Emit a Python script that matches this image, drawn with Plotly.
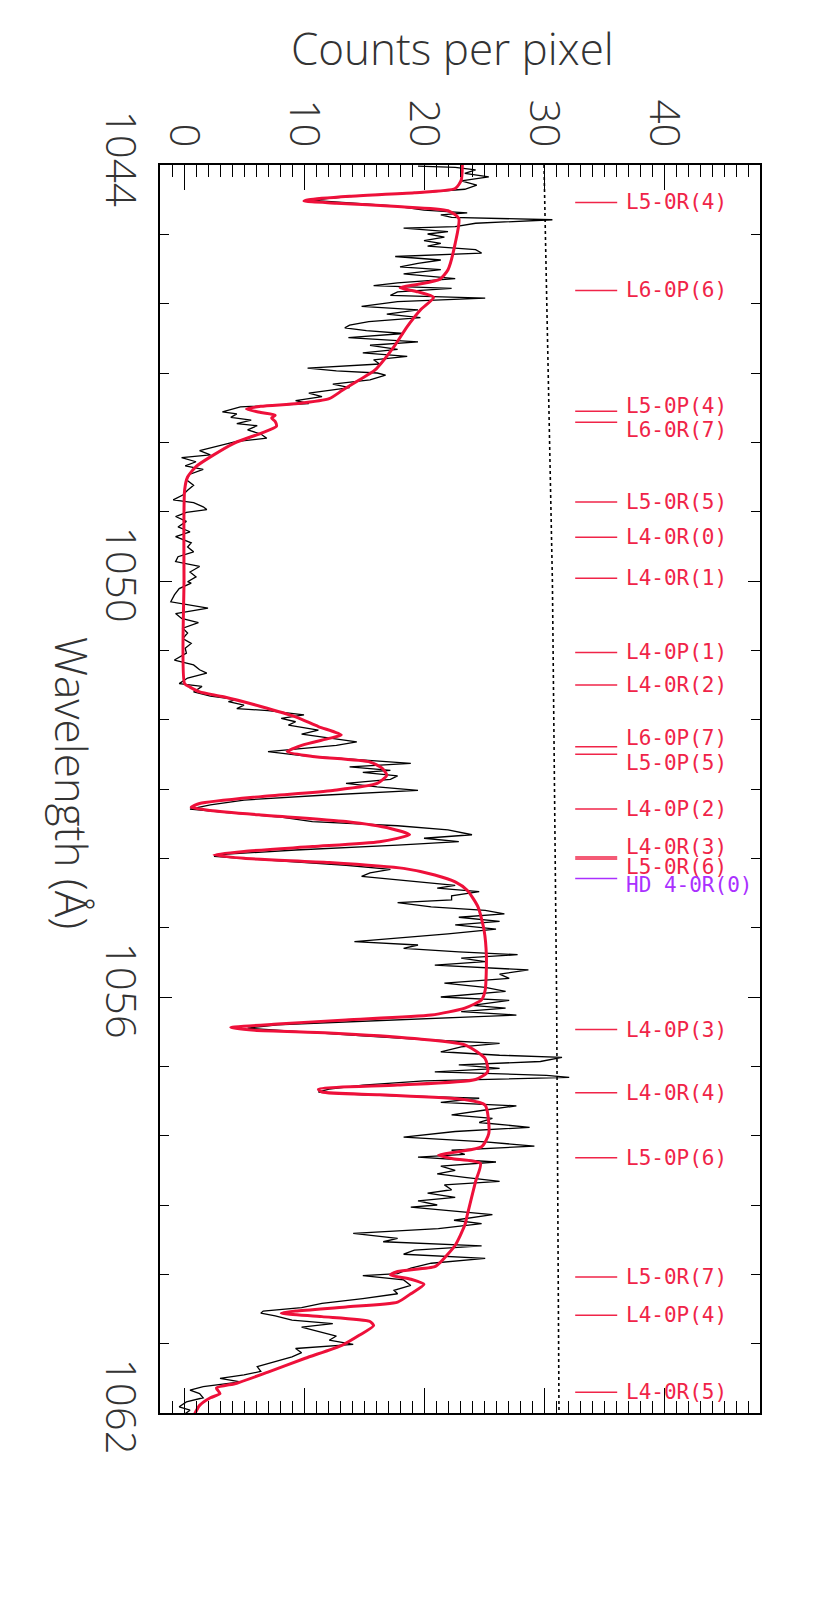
import plotly.graph_objects as go

# observed spectrum (black), wavelength in Angstrom / counts per pixel
obs_wave = [
    1044.015, 1044.034, 1044.07, 1044.12, 1044.17, 1044.23, 1044.29, 1044.35, 1044.40, 1044.43,
    1044.48, 1044.51, 1044.54, 1044.59, 1044.65, 1044.69, 1044.72, 1044.755, 1044.79, 1044.84,
    1044.89, 1044.91, 1044.96, 1044.995, 1045.04, 1045.09, 1045.13, 1045.17, 1045.22, 1045.27,
    1045.32, 1045.37, 1045.42, 1045.47, 1045.51, 1045.57, 1045.64, 1045.70, 1045.74, 1045.78,
    1045.83, 1045.88, 1045.92, 1045.97, 1046.04, 1046.09, 1046.15, 1046.20, 1046.26, 1046.31,
    1046.35, 1046.39, 1046.43, 1046.49, 1046.55, 1046.60, 1046.66, 1046.71, 1046.76, 1046.81,
    1046.87, 1046.93, 1046.97, 1047.00,
    1047.03, 1047.10, 1047.16, 1047.21, 1047.29, 1047.34, 1047.40, 1047.44, 1047.49, 1047.56,
    1047.59, 1047.64, 1047.68, 1047.73, 1047.76, 1047.82, 1047.88, 1047.94, 1047.99, 1048.05,
    1048.12, 1048.18, 1048.22, 1048.28, 1048.34, 1048.39, 1048.46, 1048.54, 1048.62, 1048.69,
    1048.76, 1048.83, 1048.87, 1048.93, 1048.97, 1049.01, 1049.07, 1049.14, 1049.22, 1049.29,
    1049.36, 1049.45, 1049.51, 1049.58, 1049.65, 1049.72, 1049.79, 1049.87, 1049.94, 1050.01,
    1050.03, 1050.11, 1050.20, 1050.30, 1050.39, 1050.47, 1050.54, 1050.60, 1050.68, 1050.75,
    1050.83, 1050.90, 1050.97, 1051.04, 1051.14, 1051.21, 1051.28, 1051.33, 1051.40, 1051.48,
    1051.52, 1051.60, 1051.66, 1051.71, 1051.74, 1051.79, 1051.84, 1051.87, 1051.91, 1051.93,
    1051.98, 1052.03, 1052.08, 1052.15, 1052.21, 1052.25, 1052.32, 1052.37, 1052.41, 1052.46,
    1052.52, 1052.57, 1052.63, 1052.68, 1052.73, 1052.76, 1052.81, 1052.86, 1052.92, 1052.97,
    1053.02, 1053.09, 1053.16, 1053.23, 1053.29, 1053.34, 1053.40, 1053.47, 1053.53, 1053.59,
    1053.63, 1053.66, 1053.71, 1053.76, 1053.81, 1053.88, 1053.94, 1053.97, 1054.02, 1054.10,
    1054.16, 1054.21, 1054.26, 1054.31, 1054.39, 1054.43, 1054.48, 1054.54, 1054.60, 1054.64,
    1054.70, 1054.75, 1054.80, 1054.85, 1054.91, 1054.96, 1055.02, 1055.09, 1055.15, 1055.20,
    1055.25, 1055.30, 1055.35, 1055.39, 1055.44, 1055.49, 1055.54, 1055.61, 1055.67, 1055.73,
    1055.80, 1055.86, 1055.92, 1056.00, 1056.05, 1056.12, 1056.16, 1056.21, 1056.26, 1056.31,
    1056.36, 1056.40, 1056.45, 1056.50, 1056.56, 1056.62, 1056.67, 1056.72, 1056.79, 1056.84,
    1056.87, 1056.93, 1056.98, 1057.03, 1057.08, 1057.13, 1057.16, 1057.21, 1057.27, 1057.33,
    1057.37, 1057.41, 1057.46, 1057.52, 1057.57, 1057.63, 1057.70, 1057.75, 1057.81, 1057.88,
    1057.94, 1058.02, 1058.09, 1058.15, 1058.21, 1058.27, 1058.31, 1058.38, 1058.44, 1058.50,
    1058.55, 1058.60, 1058.66, 1058.71, 1058.78, 1058.83, 1058.89, 1058.94, 1059.00, 1059.03,
    1059.07, 1059.14, 1059.22, 1059.27, 1059.34, 1059.41, 1059.48, 1059.53, 1059.59, 1059.65,
    1059.71, 1059.77, 1059.84, 1059.91, 1059.99, 1060.02, 1060.08, 1060.16, 1060.23, 1060.28,
    1060.35, 1060.42, 1060.48, 1060.53, 1060.56, 1060.60, 1060.66, 1060.71, 1060.76, 1060.82,
    1060.89, 1060.95, 1061.01, 1061.07, 1061.13, 1061.19, 1061.26, 1061.33, 1061.40, 1061.45,
    1061.50, 1061.55, 1061.62, 1061.67, 1061.72, 1061.78, 1061.84, 1061.91, 1061.96, 1062.01,
]
obs_counts = [
    19.5, 22.6, 24.3, 23.4, 25.4, 23.1, 24.4, 23.4, 19.5, 15.5,
    12.1, 10.7, 13.2, 17.5, 20.0, 23.6, 21.4, 22.3, 30.7, 24.3,
    22.6, 18.3, 22.0, 20.3, 21.7, 20.0, 21.4, 20.3, 24.3, 24.8,
    17.6, 21.4, 19.5, 18.0, 21.4, 18.3, 22.6, 17.8, 15.8, 22.3,
    17.8, 17.2, 25.1, 17.8, 14.8, 19.5, 16.9, 19.7, 15.4, 13.8,
    13.4, 15.2, 18.3, 13.7, 19.5, 15.5, 17.8, 14.9, 18.6, 15.8,
    16.3, 10.3, 12.7, 16.1,
    16.8, 15.5, 12.4, 13.8, 10.4, 11.5, 9.3, 10.4, 4.7, 3.2,
    4.4, 3.9, 5.6, 4.4, 6.1, 5.3, 6.4, 6.9, 4.3, 2.9,
    1.3, 2.2, -0.2, 1.0, 0.1, 1.6, 0.5, 0.2, 0.8, 0.3,
    -0.1, -0.9, 0.8, 1.6, 1.9, 0.2, -0.7, 0.2, -0.5, 0.5,
    -0.7, 0.6, 0.3, 0.8, -0.5, -0.7, 1.3, 0.5, 1.0, 0.3,
    0.6, -0.4, -0.8, -1.1, 2.0, -0.7, -0.2, 1.2, -0.1, 0.3,
    -0.1, 0.6, 0.1, 0.2, -0.8, 0.8, 1.3, 1.9, 0.3, -0.4,
    1.5, 0.8, 2.2, 4.4, 3.7, 5.0, 4.4, 7.0, 8.7, 10.0,
    8.1, 9.3, 8.7, 11.2, 9.8, 11.5, 14.4, 12.7, 10.4, 7.0,
    9.8, 13.8, 18.9, 13.8, 17.2, 14.9, 17.8, 17.2, 13.5, 16.1,
    19.5, 11.5, 5.0, 2.2, 0.5, 3.6, 7.8, 10.7, 17.8, 22.0,
    23.1, 24.0, 20.0, 22.9, 17.8, 9.3, 3.6, 2.5, 6.4, 13.5,
    17.2, 15.5, 14.8, 17.8, 22.6, 21.1, 24.6, 22.3, 22.3, 17.8,
    20.6, 25.1, 26.7, 22.9, 26.3, 22.6, 26.0, 22.0, 17.8, 14.2,
    19.5, 18.3, 22.9, 27.8, 23.1, 25.1, 20.9, 28.7, 26.3, 27.1,
    21.7, 25.1, 26.8, 21.4, 27.1, 24.0, 26.8, 23.1, 27.7, 20.6,
    14.1, 7.8, 5.3, 9.3, 14.9, 20.6, 26.3, 23.1, 21.4, 26.3,
    31.5, 29.7, 22.9, 26.3, 20.9, 30.2, 32.1, 20.0, 14.9, 12.1,
    11.2, 14.9, 24.6, 21.4, 27.7, 25.1, 22.3, 25.7, 24.6, 28.8,
    22.6, 18.3, 25.1, 29.2, 22.3, 23.4, 19.5, 26.0, 21.4, 22.6,
    21.1, 23.4, 26.3, 21.7, 22.3, 20.3, 22.6, 19.5, 21.1, 18.9,
    21.4, 25.7, 22.5, 24.8, 21.2, 14.1, 17.8, 16.6, 24.8, 19.2,
    18.3, 25.1, 20.6, 18.9, 17.8, 14.9, 18.3, 18.9, 17.5, 17.8,
    14.9, 11.5, 9.8, 6.6, 6.4, 7.6, 9.0, 12.4, 9.8, 11.2,
    12.7, 12.1, 14.1, 9.3, 9.8, 9.0, 7.6, 6.1, 6.4, 5.0,
    3.0, 4.7, 1.6, 0.5, 1.3, 1.6, 0.2, -0.4, 0.5, 0.1,
]

# model fit (red)
model_wave = [
    1043.93, 1044.22, 1044.34, 1044.40, 1044.45, 1044.50, 1044.52, 1044.55, 1044.60, 1044.66,
    1044.77, 1045.13, 1045.51, 1045.65, 1045.72, 1045.77, 1045.83, 1045.91, 1046.09, 1046.33,
    1046.62, 1046.96, 1047.10, 1047.25, 1047.37, 1047.44, 1047.48, 1047.52, 1047.57, 1047.61,
    1047.65, 1047.70, 1047.77, 1047.87, 1048.01, 1048.21, 1048.35, 1048.50, 1048.69, 1050.00,
    1051.48, 1051.53, 1051.60, 1051.67, 1051.81, 1051.96, 1052.10, 1052.22, 1052.27, 1052.37,
    1052.46, 1052.53, 1052.61, 1052.70, 1052.80, 1052.92, 1053.02, 1053.11, 1053.21, 1053.265,
    1053.31, 1053.375, 1053.47, 1053.57, 1053.66, 1053.76, 1053.83, 1053.90, 1053.95, 1054.00,
    1054.06, 1054.145, 1054.24, 1054.34, 1054.46, 1054.70, 1055.03, 1055.42, 1055.90, 1056.04,
    1056.16, 1056.26, 1056.33, 1056.39, 1056.44, 1056.48, 1056.52, 1056.60, 1056.69, 1056.89,
    1057.08, 1057.19, 1057.27, 1057.33, 1057.37, 1057.41, 1057.48, 1057.56, 1057.97, 1058.16,
    1058.23, 1058.28, 1058.33, 1058.40, 1058.66, 1059.15, 1059.29, 1059.58, 1059.82, 1059.89,
    1059.96, 1060.01, 1060.07, 1060.145, 1060.28, 1060.40, 1060.47, 1060.53, 1060.56, 1060.61,
    1060.68, 1060.74, 1060.88, 1061.02, 1061.21, 1061.41, 1061.57, 1061.64, 1061.72, 1061.78,
    1061.89, 1062.01,
]
model_counts = [
    23.2, 23.1, 22.6, 19.2, 13.8, 10.4, 10.0, 12.7, 17.8, 22.0,
    22.9, 22.6, 22.0, 21.3, 19.5, 18.0, 19.5, 20.8, 19.7, 18.6,
    17.5, 15.9, 14.6, 13.2, 12.1, 9.5, 6.4, 5.2, 6.4, 7.6,
    7.3, 7.6, 7.7, 6.4, 4.2, 2.2, 1.0, 0.3, 0.05, 0.0,
    0.05, 0.5, 1.3, 3.3, 6.4, 9.3, 11.2, 13.1, 12.1, 9.8,
    8.6, 10.7, 15.5, 16.5, 16.9, 16.1, 12.4, 6.4, 1.3, 0.6,
    2.2, 6.4, 13.5, 17.2, 18.8, 16.3, 10.7, 5.0, 2.5, 5.0,
    12.1, 18.3, 20.9, 22.6, 23.6, 24.5, 25.0, 25.2, 25.1, 24.8,
    23.4, 20.6, 13.5, 7.8, 3.9, 5.9, 12.1, 19.2, 23.4, 25.1,
    25.3, 24.3, 17.8, 11.2, 11.5, 16.3, 23.4, 25.1, 25.4, 24.8,
    22.9, 21.2, 22.3, 24.7, 24.3, 23.6, 23.4, 22.6, 21.4, 20.9,
    17.8, 17.2, 18.9, 20.0, 18.9, 17.8, 13.5, 9.3, 8.1, 11.5,
    15.5, 15.8, 14.6, 13.2, 10.1, 7.0, 4.4, 2.7, 3.0, 2.2,
    1.3, 0.9,
]

# dotted reference level
level_wave = [1044, 1050, 1056, 1062]
level_counts = [30.0, 30.7, 31.05, 31.25]

# identified absorption lines
line_names = [
    "L5-0R(4)", "L6-0P(6)", "L5-0P(4)", "L6-0R(7)", "L5-0R(5)", "L4-0R(0)", "L4-0R(1)",
    "L4-0P(1)", "L4-0R(2)", "L6-0P(7)", "L5-0P(5)", "L4-0P(2)", "L4-0R(3)", "L5-0R(6)",
    "HD 4-0R(0)", "L4-0P(3)", "L4-0R(4)", "L5-0P(6)", "L5-0R(7)", "L4-0P(4)", "L4-0R(5)",
]
line_wave = [
    1044.54, 1045.81, 1047.55, 1047.71, 1048.86, 1049.37, 1049.96,
    1051.03, 1051.50, 1052.39, 1052.50, 1053.29, 1053.98, 1054.01,
    1054.29, 1056.47, 1057.38, 1058.32, 1060.04, 1060.59, 1061.70,
]

RED = "rgb(238,16,58)"
LABEL_RED = "rgb(240,36,72)"
PURPLE = "rgb(170,48,255)"
# small vertical nudges (px, downwards) to keep crowded labels apart
label_nudge = {"L5-0P(4)": -5, "L6-0R(7)": 8, "L6-0P(7)": -9, "L5-0P(5)": 9,
               "L4-0R(3)": -10, "L5-0R(6)": 8, "HD 4-0R(0)": 7}

fig = go.Figure()

fig.add_trace(go.Scatter(x=level_counts, y=level_wave, mode="lines",
                         line=dict(color="black", width=1.6, dash="dot"),
                         hoverinfo="skip"))
fig.add_trace(go.Scatter(x=obs_counts, y=obs_wave, mode="lines",
                         line=dict(color="black", width=1.3)))
fig.add_trace(go.Scatter(x=model_counts, y=model_wave, mode="lines",
                         line=dict(color=RED, width=3, shape="spline", smoothing=0.6)))

for name, w in zip(line_names, line_wave):
    col = PURPLE if name.startswith("HD") else LABEL_RED
    fig.add_trace(go.Scatter(x=[32.6, 36.1], y=[w, w], mode="lines",
                             line=dict(color=col, width=1.5), hoverinfo="skip"))
    fig.add_annotation(x=36.1, y=w, xref="x", yref="y", text=name, showarrow=False,
                       xanchor="left", yanchor="middle", xshift=7,
                       yshift=-label_nudge.get(name, 0),
                       font=dict(family="DejaVu Sans Mono", size=21, color=col))

axis_font = dict(family="Open Sans", size=42, color="#333333", weight=300)

fig.add_annotation(text="Counts per pixel", xref="paper", yref="paper", x=0.488, y=1,
                   yshift=117, showarrow=False, yanchor="middle",
                   font=dict(family="Open Sans", size=44, color="#333333", weight=300))
fig.add_annotation(text="Wavelength (Å)", xref="paper", yref="paper", x=0, y=0.505,
                   xshift=-88, showarrow=False, textangle=90, xanchor="center",
                   font=dict(family="Open Sans", size=44, color="#333333", weight=300))

fig.update_xaxes(range=[-2, 48], side="top", tick0=0, dtick=10, tickangle=90,
                 ticks="inside", ticklen=25, tickwidth=1.2, tickcolor="black",
                 minor=dict(dtick=1, ticks="inside", ticklen=12, tickwidth=1.2,
                            tickcolor="black"),
                 showline=True, linecolor="black", linewidth=1.5, mirror="allticks",
                 showgrid=False, zeroline=False, tickfont=axis_font,
                 ticklabelstandoff=1)
fig.update_yaxes(range=[1062, 1044], tick0=1044, dtick=6, tickangle=90,
                 ticks="inside", ticklen=12, tickwidth=1.2, tickcolor="black",
                 minor=dict(dtick=1, ticks="inside", ticklen=9, tickwidth=1.2,
                            tickcolor="black"),
                 showline=True, linecolor="black", linewidth=1.5, mirror="allticks",
                 showgrid=False, zeroline=False, tickfont=axis_font,
                 ticklabelstandoff=2)

fig.update_layout(width=830, height=1615, showlegend=False,
                  margin=dict(l=152, r=78, t=157, b=210),
                  plot_bgcolor="white", paper_bgcolor="white")

fig.write_html("out.html")
